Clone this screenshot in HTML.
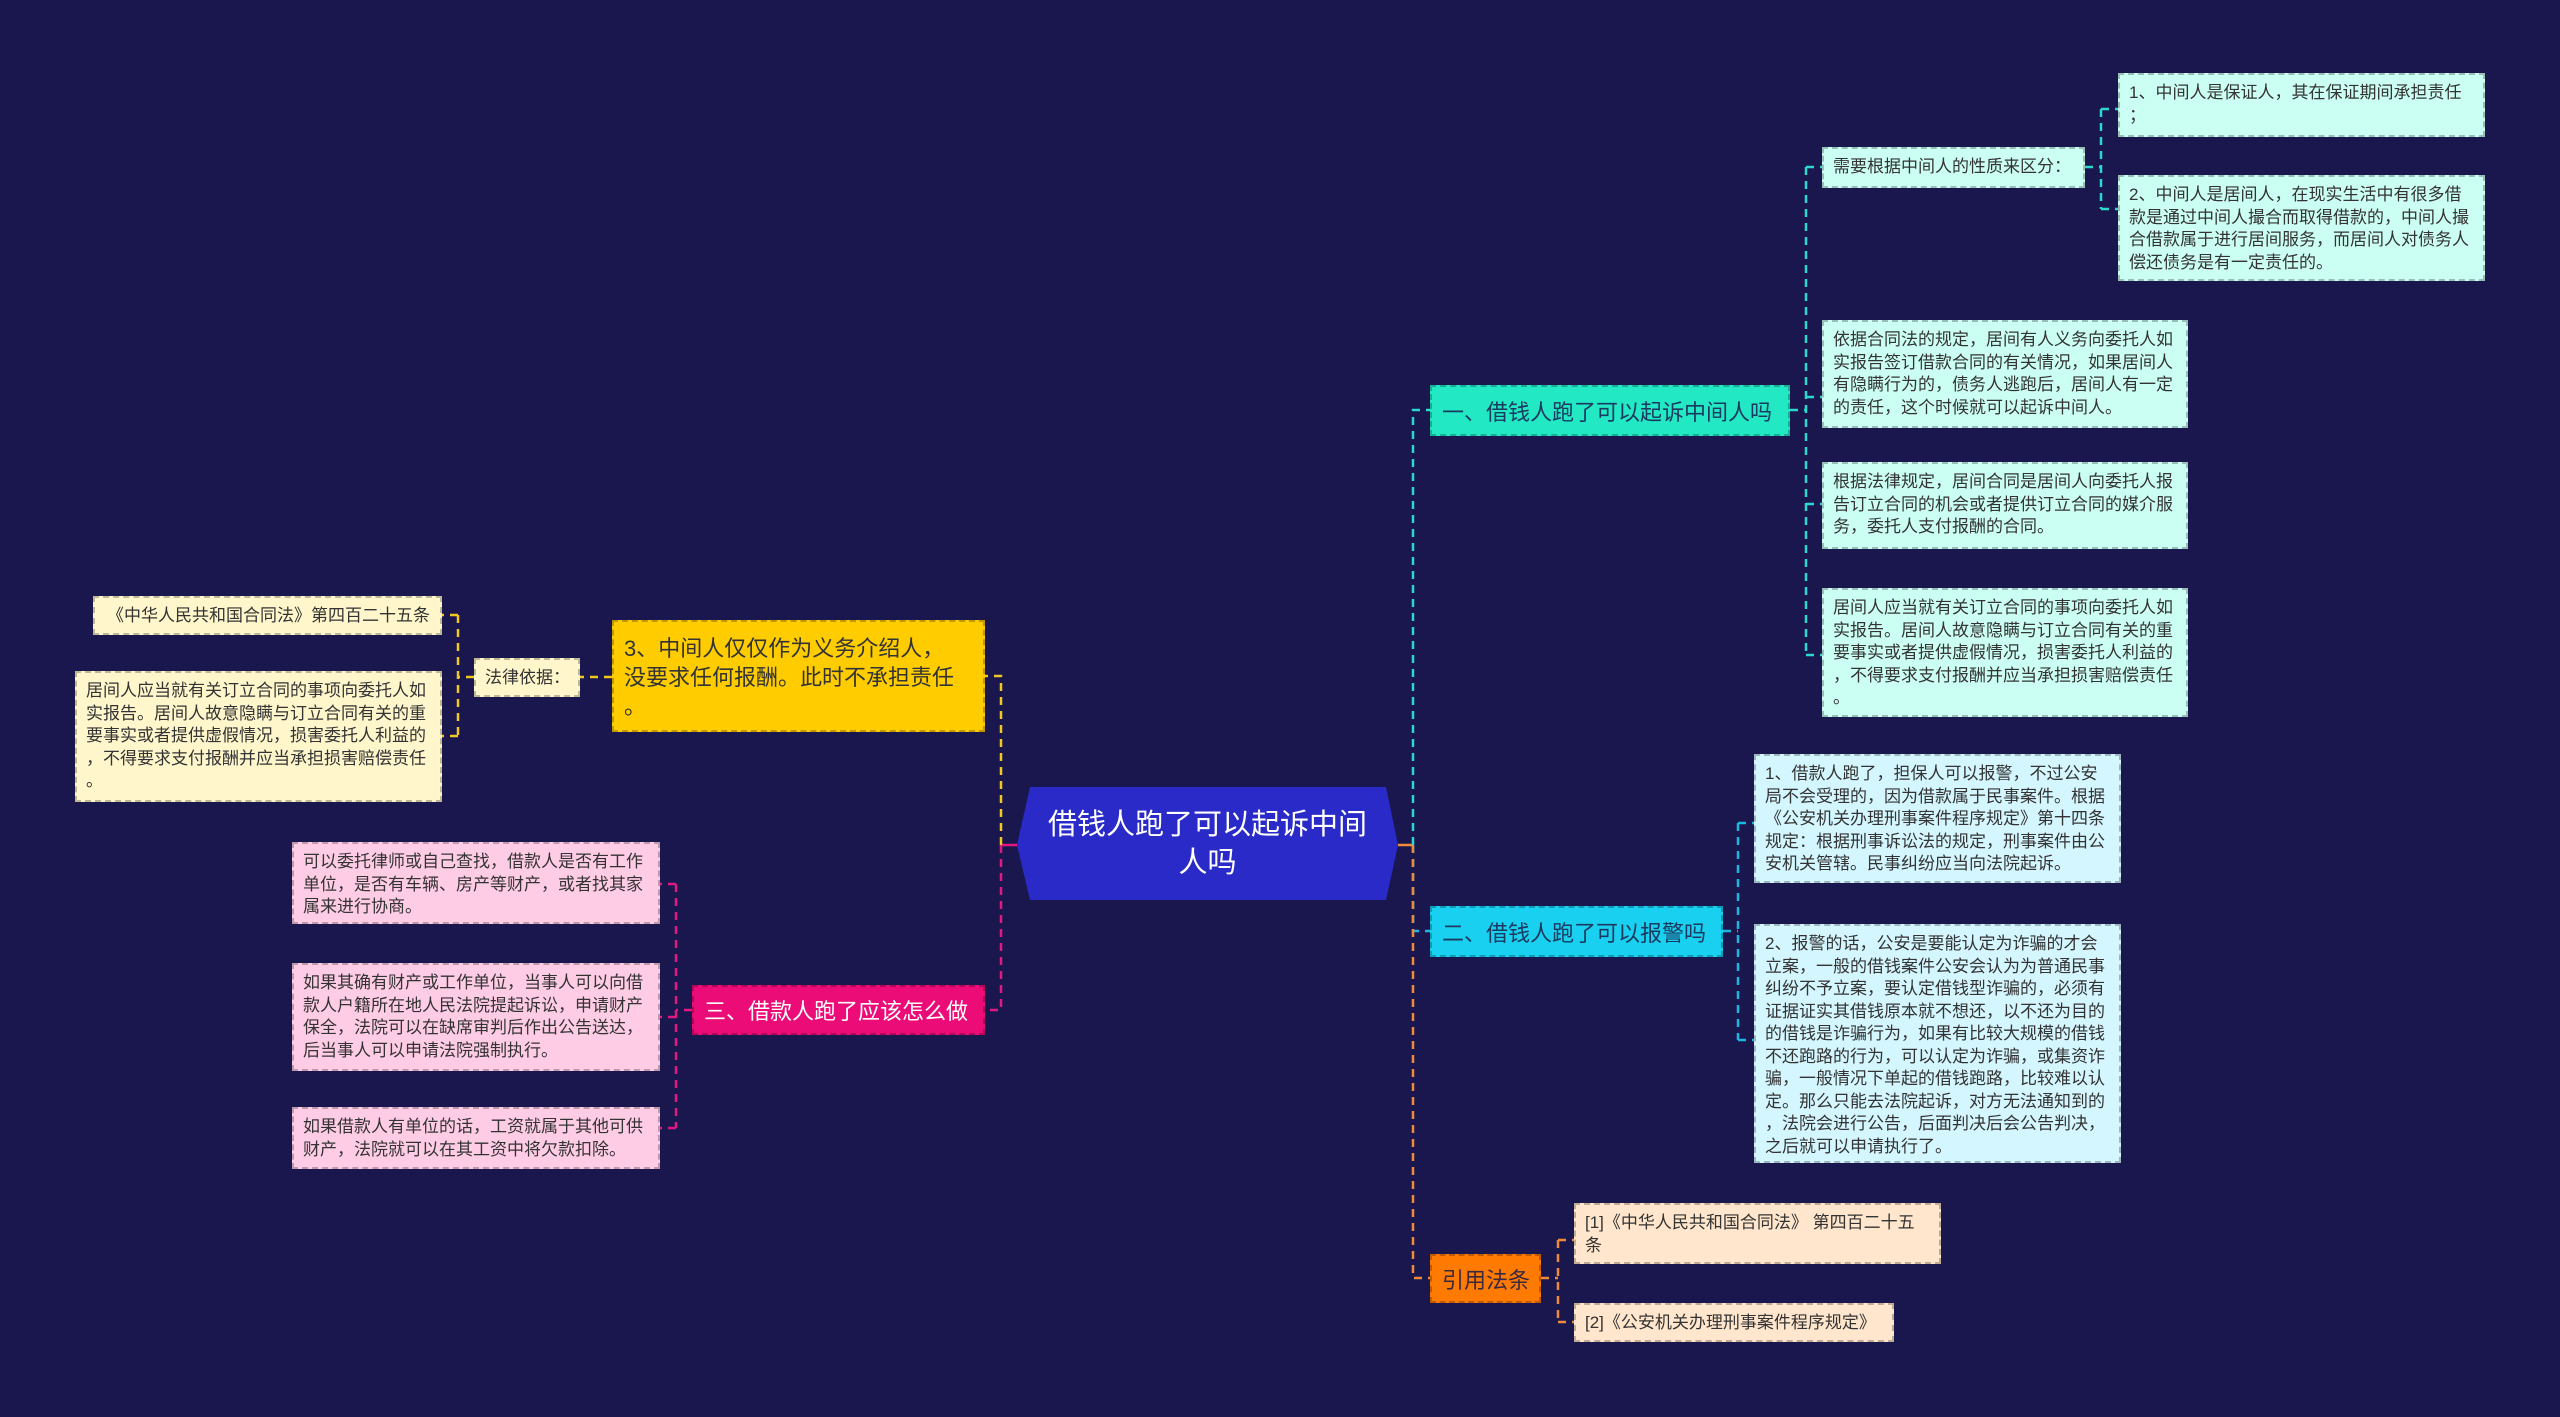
<!DOCTYPE html>
<html><head><meta charset="utf-8"><style>
html,body{margin:0;padding:0}
body{width:2560px;height:1417px;background:#19174e;position:relative;overflow:hidden;font-family:"Liberation Sans","Noto Sans CJK SC",sans-serif}
.b{position:absolute;box-sizing:border-box;border:2px dashed rgba(0,0,0,0.25);white-space:nowrap;color:#333}
.s{font-size:17px;line-height:22.5px;padding:7px 9px}
.c1{background:#ccfff3}
.c2{background:#d4f6ff}
.c3{background:#ffe6cc}
.cy{background:#fff6cc}
.cp{background:#ffcce6}
.m{font-size:22px;padding:0 10px;display:flex;align-items:center}
svg{position:absolute;left:0;top:0}
</style></head><body>
<svg width="2560" height="1417" fill="none" stroke-width="2.5" stroke-dasharray="8,6">
<path d="M1398 845H1413" stroke="#f08a3a" stroke-dasharray="none"/>
<path d="M1413 845V410H1430" stroke="#2ad8cc"/>
<path d="M1790 410H1806M1806 167V655M1806 167H1822M1806 397H1822M1806 504H1822M1806 655H1822" stroke="#2ad8cc"/>
<path d="M2085 167H2101M2101 109V209M2101 109H2118M2101 209H2118" stroke="#2ad8cc"/>
<path d="M1413 845V931H1430" stroke="#1ab8e0"/>
<path d="M1723 931H1738M1738 823V1040M1738 823H1754M1738 1040H1754" stroke="#1ab8e0"/>
<path d="M1413 845V1278H1430" stroke="#f08a3a"/>
<path d="M1541 1278H1558M1558 1240V1322M1558 1240H1574M1558 1322H1574" stroke="#f08a3a"/>
<path d="M1017 845H1001" stroke="#e0187f" stroke-dasharray="none"/>
<path d="M1001 845V676H985" stroke="#f0c820"/>
<path d="M612 677H580M474 677H458M458 615V736M458 615H442M458 736H442" stroke="#f0c820"/>
<path d="M1001 845V1010H985" stroke="#e0187f"/>
<path d="M692 1010H676M676 884V1128M676 884H660M676 1017H660M676 1128H660" stroke="#e0187f"/>
</svg>
<svg width="2560" height="1417"><polygon points="1030,787 1386,787 1398,845 1386,900 1030,900 1017,845" fill="#2a2ac8"/></svg>
<div style="position:absolute;left:1017px;top:787px;width:381px;height:113px;display:flex;align-items:center;justify-content:center;text-align:center;color:#fff;font-size:29px;line-height:38px">借钱人跑了可以起诉中间<br>人吗</div>

<div class="b m" style="left:1430px;top:385px;width:360px;height:51px;background:#22e8c4;color:#1a3a60">一、借钱人跑了可以起诉中间人吗</div>
<div class="b s c1" style="left:1822px;top:147px;width:263px;height:41px">需要根据中间人的性质来区分：</div>
<div class="b s c1" style="left:2118px;top:73px;width:367px;height:64px">1、中间人是保证人，其在保证期间承担责任<br>；</div>
<div class="b s c1" style="left:2118px;top:175px;width:367px;height:106px">2、中间人是居间人，在现实生活中有很多借<br>款是通过中间人撮合而取得借款的，中间人撮<br>合借款属于进行居间服务，而居间人对债务人<br>偿还债务是有一定责任的。</div>
<div class="b s c1" style="left:1822px;top:320px;width:366px;height:108px">依据合同法的规定，居间有人义务向委托人如<br>实报告签订借款合同的有关情况，如果居间人<br>有隐瞒行为的，债务人逃跑后，居间人有一定<br>的责任，这个时候就可以起诉中间人。</div>
<div class="b s c1" style="left:1822px;top:462px;width:366px;height:87px">根据法律规定，居间合同是居间人向委托人报<br>告订立合同的机会或者提供订立合同的媒介服<br>务，委托人支付报酬的合同。</div>
<div class="b s c1" style="left:1822px;top:588px;width:366px;height:129px">居间人应当就有关订立合同的事项向委托人如<br>实报告。居间人故意隐瞒与订立合同有关的重<br>要事实或者提供虚假情况，损害委托人利益的<br>，不得要求支付报酬并应当承担损害赔偿责任<br>。</div>

<div class="b m" style="left:1430px;top:906px;width:293px;height:51px;background:#1ad0f0;color:#1a3a60">二、借钱人跑了可以报警吗</div>
<div class="b s c2" style="left:1754px;top:754px;width:367px;height:129px">1、借款人跑了，担保人可以报警，不过公安<br>局不会受理的，因为借款属于民事案件。根据<br>《公安机关办理刑事案件程序规定》第十四条<br>规定：根据刑事诉讼法的规定，刑事案件由公<br>安机关管辖。民事纠纷应当向法院起诉。</div>
<div class="b s c2" style="left:1754px;top:924px;width:367px;height:239px">2、报警的话，公安是要能认定为诈骗的才会<br>立案，一般的借钱案件公安会认为为普通民事<br>纠纷不予立案，要认定借钱型诈骗的，必须有<br>证据证实其借钱原本就不想还，以不还为目的<br>的借钱是诈骗行为，如果有比较大规模的借钱<br>不还跑路的行为，可以认定为诈骗，或集资诈<br>骗，一般情况下单起的借钱跑路，比较难以认<br>定。那么只能去法院起诉，对方无法通知到的<br>，法院会进行公告，后面判决后会公告判决，<br>之后就可以申请执行了。</div>

<div class="b m" style="left:1430px;top:1254px;width:111px;height:49px;background:#ff7a00;color:#3a2a40">引用法条</div>
<div class="b s c3" style="left:1574px;top:1203px;width:367px;height:61px">[1]《中华人民共和国合同法》 第四百二十五<br>条</div>
<div class="b s c3" style="left:1574px;top:1303px;width:320px;height:39px">[2]《公安机关办理刑事案件程序规定》</div>

<div class="b" style="left:612px;top:620px;width:373px;height:112px;background:#ffcc00;color:#333;font-size:22px;line-height:29px;padding:12px 10px">3、中间人仅仅作为义务介绍人，<br>没要求任何报酬。此时不承担责任<br>。</div>
<div class="b s cy" style="left:474px;top:658px;width:106px;height:39px">法律依据：</div>
<div class="b s cy" style="left:93px;top:596px;width:349px;height:39px;padding-left:12px">《中华人民共和国合同法》第四百二十五条</div>
<div class="b s cy" style="left:75px;top:671px;width:367px;height:131px">居间人应当就有关订立合同的事项向委托人如<br>实报告。居间人故意隐瞒与订立合同有关的重<br>要事实或者提供虚假情况，损害委托人利益的<br>，不得要求支付报酬并应当承担损害赔偿责任<br>。</div>

<div class="b m" style="left:692px;top:985px;width:293px;height:50px;background:#ec0c78;color:#fff">三、借款人跑了应该怎么做</div>
<div class="b s cp" style="left:292px;top:842px;width:368px;height:82px">可以委托律师或自己查找，借款人是否有工作<br>单位，是否有车辆、房产等财产，或者找其家<br>属来进行协商。</div>
<div class="b s cp" style="left:292px;top:963px;width:368px;height:108px">如果其确有财产或工作单位，当事人可以向借<br>款人户籍所在地人民法院提起诉讼，申请财产<br>保全，法院可以在缺席审判后作出公告送达，<br>后当事人可以申请法院强制执行。</div>
<div class="b s cp" style="left:292px;top:1107px;width:368px;height:62px">如果借款人有单位的话，工资就属于其他可供<br>财产，法院就可以在其工资中将欠款扣除。</div>
</body></html>
